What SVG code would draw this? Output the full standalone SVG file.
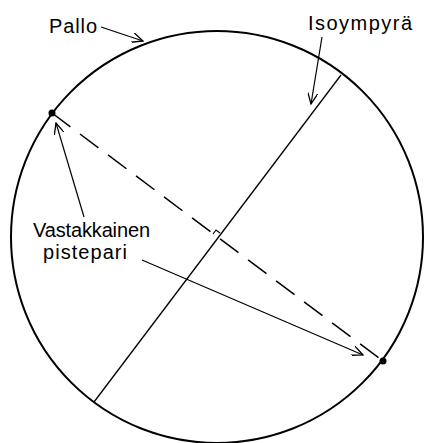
<svg xmlns="http://www.w3.org/2000/svg" width="425" height="443" viewBox="0 0 425 443">
<style>
.lbl{font-family:"Liberation Sans","DejaVu Sans",sans-serif;font-size:20px;fill:#000}
.arr{fill:none;stroke:#000;stroke-width:1.2;marker-end:url(#ah)}
</style>
<defs>
<marker id="ah" viewBox="0 0 12 10" refX="11" refY="5" markerWidth="12" markerHeight="10" markerUnits="userSpaceOnUse" orient="auto">
<path d="M0,0 L11,5 L0,10" fill="none" stroke="#000" stroke-width="1.3"/>
</marker>
</defs>
<rect width="425" height="443" fill="#fff"/>
<g id="pallo">
<circle cx="217" cy="237" r="206" fill="none" stroke="#000" stroke-width="2"/>
</g>
<g id="isoympyra">
<line x1="341" y1="75" x2="94" y2="402" stroke="#000" stroke-width="1.3"/>
<path d="M220,233 L216,230 L213,234" fill="none" stroke="#000" stroke-width="1.2"/>
</g>
<g id="pistepari">
<line x1="52" y1="113" x2="383" y2="361" stroke="#000" stroke-width="1.5" stroke-dasharray="23 12"/>
<circle cx="52" cy="113" r="3.5" fill="#000"/>
<circle cx="383" cy="361" r="3.5" fill="#000"/>
</g>
<g id="labels">
<text class="lbl" x="49" y="33" textLength="48">Pallo</text>
<text class="lbl" x="308" y="30" textLength="104">Isoympyrä</text>
<text class="lbl" x="33" y="237" textLength="117">Vastakkainen</text>
<text class="lbl" x="43" y="259" textLength="84">pistepari</text>
</g>
<g id="connectors">
<line class="arr" x1="101" y1="27" x2="143" y2="41"/>
<line class="arr" x1="322" y1="37" x2="311" y2="104"/>
<line class="arr" x1="84" y1="217" x2="56" y2="123"/>
<line class="arr" x1="142" y1="260" x2="363" y2="355"/>
</g>
</svg>
